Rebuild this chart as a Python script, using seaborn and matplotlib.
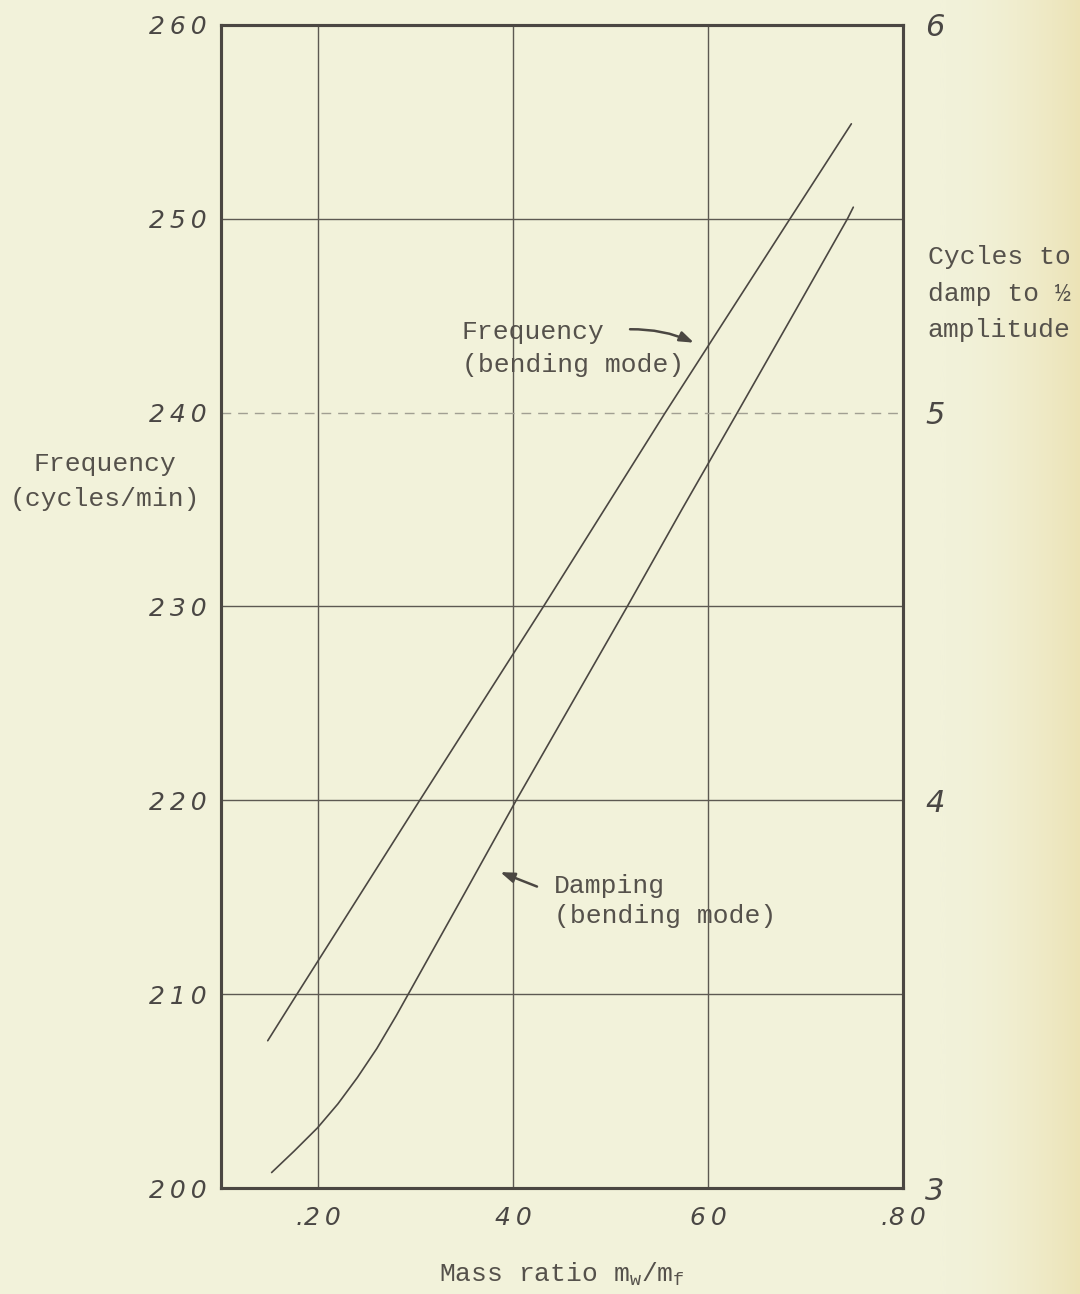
import numpy as np
import matplotlib
matplotlib.use("Agg")
import matplotlib.pyplot as plt
import seaborn as sns

# Bending-mode frequency (cycles/min) against mass ratio m_w/m_f
freq_ratio = [0.148, 0.178, 0.304, 0.431, 0.556, 0.684, 0.747]
freq_cpm = [207.6, 210.0, 220.0, 230.0, 240.0, 250.0, 254.9]

# Bending-mode damping: cycles to damp to half amplitude
damp_ratio = [0.152, 0.175, 0.199, 0.220, 0.240, 0.260, 0.280, 0.300,
              0.350, 0.403, 0.460, 0.517, 0.573, 0.630, 0.690, 0.743, 0.749]
damp_cycles = [3.040, 3.095, 3.155, 3.217, 3.285, 3.360, 3.445, 3.535,
               3.760, 4.000, 4.250, 4.500, 4.750, 5.000, 5.265, 5.500, 5.530]

x_ticks = [0.20, 0.40, 0.60, 0.80]
x_tick_labels = [".2\u20090", "4\u20090", "6\u20090", ".8\u20090"]
freq_ticks = [200, 210, 220, 230, 240, 250, 260]
cycle_ticks = [3, 4, 5, 6]

sns.set_theme(style="white")
plt.rcParams["font.family"] = ["Liberation Mono", "DejaVu Sans"]

paper = "#f2f2da"
ink = "#4b4742"
grid_ink = "#5d5952"

fig = plt.figure(figsize=(10.8, 12.94), dpi=100, facecolor=paper)

# yellowed right margin of the sheet
edge = fig.add_axes([0.87, 0.0, 0.13, 1.0], zorder=-5)
grad = np.linspace(0, 1, 200)[None, :] ** 1.8
edge.imshow(grad, aspect="auto", extent=[0, 1, 0, 1],
            cmap=matplotlib.colors.LinearSegmentedColormap.from_list(
                "sheet", [paper, "#ece3b6"]))
edge.set_axis_off()

ax = fig.add_axes([0.2046, 0.0819, 0.6315, 0.8988])
ax.set_facecolor("none")

sns.lineplot(x=freq_ratio, y=freq_cpm, ax=ax, color=ink, linewidth=1.2,
             sort=False, estimator=None)
ax.set_xlim(0.10, 0.80)
ax.set_ylim(200, 260)

ax2 = ax.twinx()
sns.lineplot(x=damp_ratio, y=damp_cycles, ax=ax2, color=ink, linewidth=1.2,
             sort=False, estimator=None)
ax2.set_ylim(3, 6)
ax2.set_xlim(0.10, 0.80)

# grid and frame
ax.set_xticks(x_ticks)
ax.set_yticks(freq_ticks)
ax.grid(True, color=grid_ink, linewidth=1.0, linestyle="-")
for gl in ax.get_ygridlines():
    if abs(gl.get_ydata()[0] - 240) < 1e-6:
        gl.set_linestyle((0, (7, 5)))
        gl.set_color("#a19f92")
ax.set_axisbelow(True)
for a in (ax, ax2):
    for s in a.spines.values():
        s.set_color(ink)
        s.set_linewidth(2.2)
        s.set_visible(True)

digit_font = dict(family="DejaVu Sans", style="italic", size=18, color="#4a4744")
ax.set_xticklabels(x_tick_labels, **digit_font)
ax.set_yticklabels(["\u2009".join(str(v)) for v in freq_ticks], **digit_font)
ax.tick_params(axis="x", length=0, pad=13)
ax.tick_params(axis="y", length=0, pad=10)

ax2.set_yticks(cycle_ticks)
ax2.set_yticklabels([str(v) for v in cycle_ticks], family="DejaVu Sans",
                    style="italic", size=22, color="#4a4744")
ax2.tick_params(axis="y", length=0, pad=16)
ax2.grid(False)

text_kw = dict(family=["Liberation Mono", "DejaVu Sans"], size=19, color="#55514b")

ax.set_xlabel("Mass ratio m$_\\mathregular{w}$/m$_\\mathregular{f}$",
              labelpad=22, **text_kw)
fig.text(0.097, 0.628, "Frequency\n(cycles/min)", ha="center", va="center",
         linespacing=1.6, **text_kw)
fig.text(0.859, 0.773, "Cycles to\ndamp to \u00bd\namplitude", ha="left",
         va="center", linespacing=1.65, **text_kw)

# curve labels with pointer arrows
ax.text(0.347, 243.3, "Frequency\n(bending mode)", ha="left", va="center",
        linespacing=1.45, **text_kw)
ax.annotate("", xy=(0.588, 243.55), xytext=(0.517, 244.3),
            arrowprops=dict(arrowstyle="-|>,head_length=0.7,head_width=0.25",
                            color=ink, lw=1.8,
                            connectionstyle="arc3,rad=-0.12"))
ax.text(0.4415, 214.8, "Damping\n(bending mode)", ha="left", va="center",
        linespacing=1.3, **text_kw)
ax.annotate("", xy=(0.384, 216.35), xytext=(0.427, 215.5),
            arrowprops=dict(arrowstyle="-|>,head_length=0.7,head_width=0.25",
                            color=ink, lw=1.8))

fig.savefig("out.png", dpi=100, facecolor=paper)
